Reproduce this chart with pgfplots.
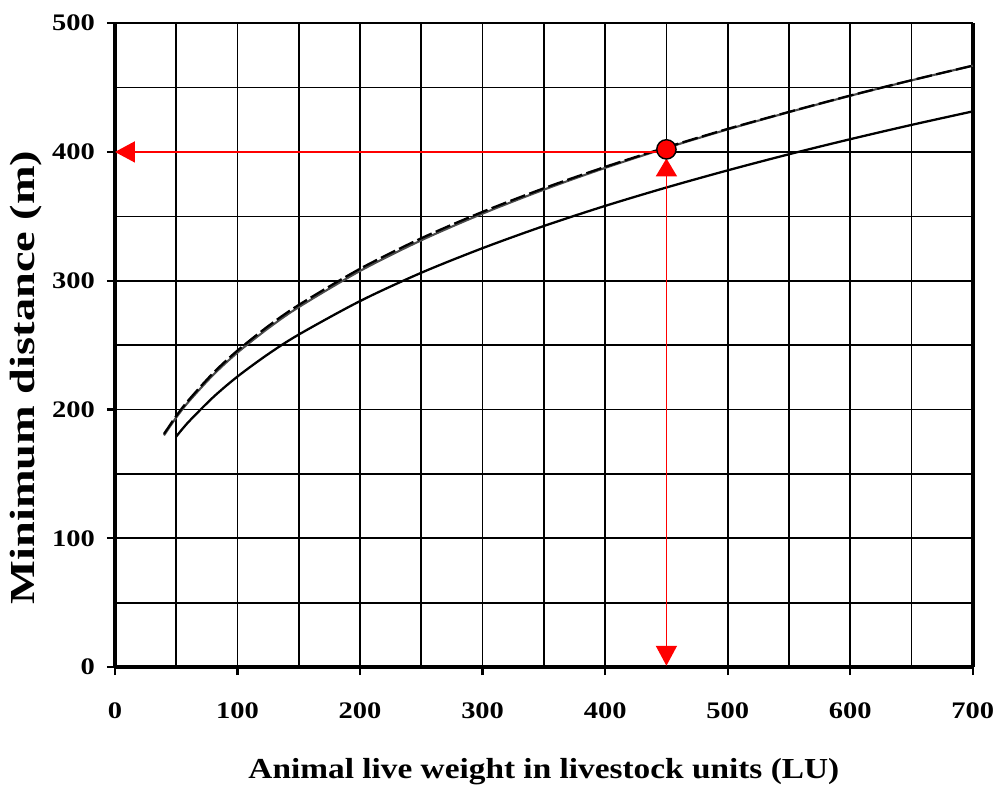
\documentclass[border=0pt]{standalone}
\usepackage{pgfplots}
\pgfplotsset{compat=1.18}
\usepackage{fontspec}
\setmainfont{Liberation Serif}
\newfontfamily\widefont[FakeStretch=1.2]{Liberation Serif}
\newfontfamily\xlabfont[FakeStretch=1.15]{Liberation Serif}
\newfontfamily\ylabfont[FakeStretch=1.32]{Liberation Serif}
\usetikzlibrary{arrows.meta}

\begin{document}
\begin{tikzpicture}
\begin{axis}[
    scale only axis,
    width=17.16cm, height=12.88cm,
    xmin=0, xmax=700, ymin=0, ymax=500,
    xtick distance=100, ytick distance=100,
    minor x tick num=1, minor y tick num=1,
    grid=both,
    major grid style={black, line width=0.95pt},
    minor grid style={black, line width=0.95pt},
    axis x line*=bottom, axis y line*=left,
    axis line style={line width=2.5pt, -},
    tick align=outside,
    major tick length=0.16cm, minor tick length=0pt,
    tick style={black, line width=1.3pt},
    /pgf/number format/assume math mode=true,
    ticklabel style={font=\widefont\fontsize{13.5}{15}\selectfont\bfseries},
    xticklabel style={yshift=-0.42cm},
    yticklabel style={xshift=-0.12cm},
    xlabel={Animal live weight in livestock units (LU)},
    ylabel={Minimum distance (m)},
    xlabel style={at={(axis description cs:0.5,-0.163)}, anchor=center,
      font=\xlabfont\fontsize{16.5}{19}\selectfont\bfseries},
    ylabel style={at={(axis description cs:-0.104,0.45)}, anchor=center,
      font=\ylabfont\fontsize{20}{23}\selectfont\bfseries},
    clip=false,
]
% margin to the left and above, as in the reference
\path (axis description cs:-0.134,1.036);

% right border
\addplot[line width=2.5pt, forget plot] coordinates {(700,0) (700,500)};

% lower solid curve
\addplot[black, line width=1.3pt, smooth] coordinates {
(50,179.0) (60,190.3) (80,209.4) (100,225.6) (125,243.0) (150,258.2)
(200,284.2) (250,306.2) (300,325.3) (350,342.5) (400,358.1) (450,372.4)
(500,385.7) (550,398.2) (600,409.9) (650,421.0) (700,431.5)};

% upper solid curve
\addplot[black!70, line width=1.2pt, smooth] coordinates {
(40,179.9) (50,193.8) (60,205.9) (80,226.7) (100,244.2) (125,263.0)
(150,279.5) (200,307.6) (250,331.4) (300,352.1) (350,370.7) (400,387.6)
(450,403.1) (500,417.5) (550,430.9) (600,443.6) (650,455.6) (700,467.0)};

% dashed curve
\addplot[black, line width=1.3pt, smooth, dash pattern=on 9pt off 2.5pt] coordinates {
(40,181.0) (50,195.0) (60,207.2) (80,228.2) (100,245.8) (125,264.7)
(150,281.2) (200,309.3) (250,333.0) (300,353.5) (350,371.8) (400,388.4)
(450,403.6) (500,417.9) (550,431.1) (600,443.8) (650,455.7) (700,467.0)};

% red reading lines
\addplot[red, line width=1pt, -{Triangle[width=0.42cm, length=0.4cm]}]
  coordinates {(450,400) (0,400)};
\addplot[red, line width=1pt, {Triangle[width=0.42cm, length=0.36cm]}-{Triangle[width=0.42cm, length=0.4cm]}]
  coordinates {(450,395) (450,1)};
\addplot[only marks, mark=*, mark size=5.5pt,
  mark options={fill=red, draw=black, line width=0.8pt}]
  coordinates {(450,402)};
\end{axis}
\end{tikzpicture}
\end{document}
